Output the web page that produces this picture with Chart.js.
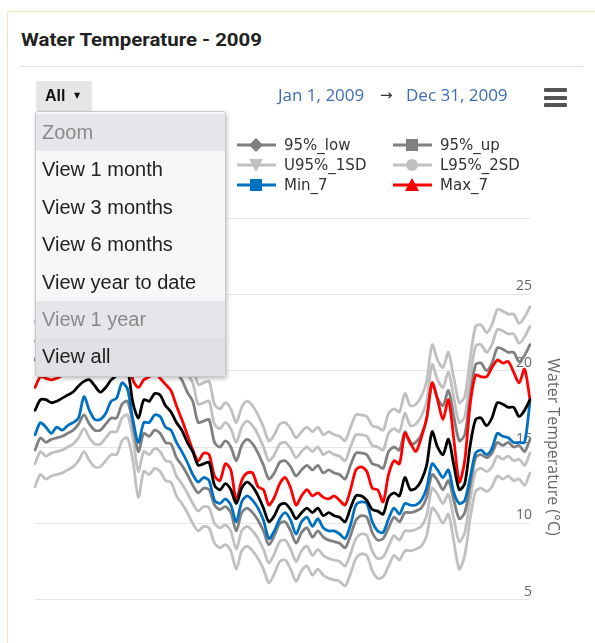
<!DOCTYPE html>
<html>
<head>
<meta charset="utf-8">
<script src="https://cdn.jsdelivr.net/npm/chart.js@4.4.0/dist/chart.umd.min.js"></script>
<style>
  html, body { margin: 0; padding: 0; background: #fff; }
  body { width: 595px; height: 643px; overflow: hidden; position: relative; font-family: 'DejaVu Sans', sans-serif; }
  .panel { position: absolute; left: 7px; top: 11px; width: 620px; height: 660px; border-left: 1px solid #f3e7b4; border-top: 1px solid #f3e7b4; }
  #title { position: absolute; left: 21px; top: 30px; font: 700 19px/19px Roboto, 'Liberation Sans', sans-serif; color: #222; white-space: nowrap; transform-origin: 0 0; }
  .rule { position: absolute; left: 21px; top: 66px; width: 562px; height: 1px; background: #dddddd; }
  #wrap { position: absolute; left: 0; top: 0; width: 595px; height: 700px; }
  #legend { position: absolute; left: 0; top: 0; width: 595px; height: 210px; pointer-events: none; }
  .item { position: absolute; height: 18px; display: flex; align-items: center; white-space: nowrap; }
  .item span { margin-left: 8px; font: 15px 'DejaVu Sans', sans-serif; color: #333; }
  .btn { position: absolute; left: 36px; top: 81px; width: 56px; height: 30px; background: #e6e6e6; border-radius: 2px; }
  .btn b { position: absolute; left: 9px; top: 6px; font: 700 16px/18px 'Liberation Sans', Arial, sans-serif; color: #111; }
  .btn i { position: absolute; left: 38px; top: 9px; font: normal 8px/12px 'DejaVu Sans', sans-serif; color: #111; }
  .range { position: absolute; top: 83px; font: 17px/24px 'Open Sans', sans-serif; color: #3e6db4; white-space: nowrap; }
  .arrow { position: absolute; top: 83px; left: 380px; font: 15px/24px 'DejaVu Sans', sans-serif; color: #333; }
  .burger { position: absolute; left: 544px; width: 23px; height: 4px; background: #555; border-radius: 1px; }
  .menu { position: absolute; left: 35px; top: 111px; width: 191px; height: 266px; padding-top: 2px; box-sizing: border-box; background: #f7f7f9; border: 1px solid #c9c9cc; border-radius: 3px; box-shadow: 1px 2px 4px rgba(0,0,0,0.25); overflow: hidden; }
  .menu div { height: 37.4px; padding-left: 6px; font: 20px/37.4px 'Liberation Sans', Arial, sans-serif; color: #222; white-space: nowrap; }
  .menu .head { background: #e6e6ea; color: #8a8a8a; }
  .menu .off { background: #e6e6ea; color: #8a8a8a; }
  .menu .sel { background: #e1e1e5; color: #222; }
</style>
</head>
<body>
<div class="panel"></div>
<div id="title">Water Temperature - 2009</div>
<div class="rule"></div>
<div id="wrap"><canvas id="chart" width="595" height="700"></canvas></div>
<div id="legend"></div>

<div class="btn"><b>All</b><i>▼</i></div>
<div class="range" style="left:278px">Jan 1, 2009</div>
<div class="arrow">→</div>
<div class="range" style="left:406px">Dec 31, 2009</div>
<div class="burger" style="top:88px"></div>
<div class="burger" style="top:95.5px"></div>
<div class="burger" style="top:103px"></div>

<div class="menu">
  <div class="head">Zoom</div>
  <div>View 1 month</div>
  <div>View 3 months</div>
  <div>View 6 months</div>
  <div>View year to date</div>
  <div class="off">View 1 year</div>
  <div class="sel">View all</div>
</div>

<script>
// Daily water temperatures for 2009, one sample every 4 days (°C)
const avg7 = [17.4,18.1,18.1,17.9,18.0,18.2,18.4,18.6,19.0,19.3,
  19.4,19.0,18.6,18.9,19.4,19.7,20.4,20.1,17.9,16.9,
  18.1,18.0,18.5,18.4,17.7,17.3,16.6,16.1,15.3,14.7,
  13.8,13.9,14.0,12.5,12.2,12.6,12.2,11.3,12.3,12.7,
  12.4,11.8,11.0,10.1,10.5,11.2,11.3,10.9,10.3,10.7,
  11.0,10.7,11.0,10.5,10.7,10.5,10.4,10.1,11.0,11.8,
  11.8,11.5,10.9,10.8,10.6,11.7,12.0,11.8,13.0,12.2,
  12.3,12.8,13.8,16.0,15.0,14.5,15.5,13.8,12.2,12.6,
  15.1,16.8,16.9,16.4,16.9,17.9,17.8,17.6,17.6,17.0,
  17.4,18.1];

const max7 = [18.9,19.6,19.5,19.4,19.5,19.7,19.9,20.1,20.5,20.8,
  20.9,20.5,20.1,20.4,20.9,21.2,21.8,21.5,19.4,18.9,
  19.4,19.6,19.9,19.5,19.1,18.7,17.7,16.8,15.8,14.8,
  14.1,14.6,14.5,13.1,12.8,13.9,13.5,11.5,12.8,13.3,
  13.3,12.4,12.2,11.2,11.7,12.6,13.0,12.3,11.2,11.8,
  12.2,11.8,12.0,11.7,11.6,11.8,11.5,11.2,12.2,13.5,
  13.7,13.4,12.3,12.2,11.4,13.2,14.1,13.9,15.9,15.3,
  14.7,15.6,16.9,19.2,18.1,16.8,18.1,15.5,12.7,14.1,
  17.8,19.7,19.6,19.6,20.2,20.7,20.5,20.6,19.9,19.2,
  20.1,18.1];

const min7 = [15.8,16.6,16.3,15.9,16.3,16.1,16.4,16.6,16.9,18.3,
  17.4,16.8,16.8,17.2,18.0,18.2,19.2,18.8,16.8,15.3,
  16.6,16.6,17.1,17.0,16.3,16.1,15.3,14.7,14.0,13.2,
  12.7,13.0,12.8,11.5,11.3,11.6,11.2,10.1,11.4,11.8,
  11.5,11.0,10.2,9.0,9.5,10.3,10.7,10.2,9.3,10.1,
  10.4,9.8,10.3,9.7,9.5,9.5,9.3,9.0,9.9,11.2,
  11.4,11.3,10.1,9.5,9.4,10.3,11.0,10.6,11.3,11.2,
  11.2,11.5,12.3,13.9,13.5,13.0,13.5,12.0,11.3,11.5,
  13.0,14.6,14.8,14.5,14.9,15.9,15.7,15.6,15.3,15.3,
  15.3,18.0];

const low95 = [14.8,15.6,15.3,15.5,15.6,15.7,15.9,16.1,16.5,17.1,
  16.5,16.1,16.1,16.5,16.9,16.9,17.8,18.0,16.5,14.7,
  15.9,15.7,16.1,15.9,15.3,15.2,14.3,13.8,13.2,12.5,
  12.0,12.3,12.2,11.2,10.9,11.1,10.7,9.5,10.7,11.0,
  10.7,10.2,9.5,8.6,9.2,10.0,10.1,9.5,8.7,9.4,
  9.7,9.1,9.5,9.1,8.9,8.8,8.7,8.4,9.2,10.2,
  10.5,10.4,9.4,8.9,9.0,9.7,10.4,10.1,10.7,10.7,
  10.8,11.0,11.7,13.2,12.8,12.2,12.8,11.5,10.3,10.7,
  12.5,14.3,14.5,14.3,14.6,15.3,15.1,15.3,15.0,15.1,
  14.7,15.5];

const up95 = [20.7,21.4,21.4,21.2,21.3,21.5,21.7,21.9,22.3,22.6,
  22.7,22.3,21.9,22.2,22.7,23.0,23.7,23.4,21.2,20.2,
  21.4,21.3,21.8,21.7,21.0,20.6,19.9,19.4,18.6,18.0,
  16.6,16.7,16.8,15.3,15.0,15.4,15.0,14.1,15.1,15.5,
  15.2,14.6,13.8,12.9,13.3,14.0,14.1,13.7,13.1,13.5,
  13.8,13.5,13.8,13.3,13.5,13.3,13.2,12.9,13.8,14.6,
  14.6,14.5,13.9,13.8,13.6,14.7,15.0,14.8,16.0,15.2,
  15.3,15.8,16.8,19.2,18.2,17.7,18.7,17.0,15.4,15.8,
  18.3,20.4,20.5,20.0,20.5,21.5,21.4,21.2,21.2,20.6,
  21.0,21.7];

const lower1SD = [13.9,14.7,14.4,14.6,14.7,14.8,15.0,15.2,15.6,16.2,
  15.6,15.2,15.2,15.6,16.0,16.0,16.9,17.1,15.6,13.4,
  14.7,14.5,14.9,14.7,14.1,14.0,13.1,12.6,12.0,11.3,
  10.8,11.1,11.0,10.0,9.7,9.9,9.5,8.3,9.5,9.8,
  9.5,9.0,8.3,7.4,8.0,8.8,8.9,8.3,7.5,8.2,
  8.5,7.9,8.3,7.9,7.7,7.6,7.5,7.2,8.0,9.0,
  9.3,9.2,8.2,7.7,7.8,8.5,9.2,8.9,9.5,9.5,
  9.6,9.8,10.5,12.3,11.9,11.3,11.9,10.3,8.8,9.4,
  11.6,13.4,13.6,13.4,13.7,14.4,14.2,14.4,14.1,14.2,
  13.8,14.6];

const upper1SD = [21.9,22.6,22.6,22.4,22.5,22.7,22.9,23.1,23.5,23.8,
  23.9,23.5,23.1,23.4,23.9,24.2,24.9,24.6,22.4,21.4,
  22.6,22.5,23.0,22.9,22.2,21.8,21.1,20.6,19.8,19.2,
  17.8,17.9,18.0,16.5,16.2,16.6,16.2,15.3,16.3,16.7,
  16.4,15.8,15.0,14.1,14.5,15.2,15.3,14.9,14.3,14.7,
  15.0,14.7,15.0,14.5,14.7,14.5,14.4,14.1,15.0,15.8,
  15.8,15.7,15.1,15.0,14.8,15.9,16.2,16.0,17.2,16.4,
  16.5,17.0,18.0,20.4,19.4,18.9,19.9,18.2,16.6,17.0,
  19.5,21.6,21.7,21.2,21.7,22.7,22.6,22.4,22.4,21.8,
  22.2,22.9];

const lower2SD = [12.4,13.2,12.9,13.1,13.2,13.3,13.5,13.7,14.1,14.7,
  14.1,13.7,13.7,14.1,14.5,14.5,15.4,15.6,14.1,11.7,
  13.4,13.2,13.6,13.4,12.8,12.7,11.8,11.3,10.7,10.0,
  9.5,9.8,9.7,8.7,8.4,8.6,8.2,7.0,8.2,8.5,
  8.2,7.7,7.0,6.1,6.7,7.5,7.6,7.0,6.2,6.9,
  7.2,6.6,7.0,6.6,6.4,6.3,6.2,5.9,6.7,7.7,
  8.0,7.9,6.9,6.4,6.5,7.2,7.9,7.6,8.2,8.2,
  8.3,8.5,9.2,11.0,10.6,10.0,10.6,8.8,7.0,7.9,
  10.3,12.1,12.3,12.1,12.4,13.1,12.9,13.1,12.8,12.9,
  12.5,13.3];

const upper2SD = [23.2,23.9,23.9,23.7,23.8,24.0,24.2,24.4,24.8,25.1,
  25.2,24.8,24.4,24.7,25.2,25.5,26.2,25.9,23.7,22.7,
  23.9,23.8,24.3,24.2,23.5,23.1,22.4,21.9,21.1,20.5,
  19.1,19.2,19.3,17.8,17.5,17.9,17.5,16.6,17.6,18.0,
  17.7,17.1,16.3,15.4,15.8,16.5,16.6,16.2,15.6,16.0,
  16.3,16.0,16.3,15.8,16.0,15.8,15.7,15.4,16.3,17.1,
  17.1,17.0,16.4,16.3,16.1,17.2,17.5,17.3,18.5,17.7,
  17.8,18.3,19.3,21.7,20.7,20.2,21.2,19.5,17.9,18.3,
  20.8,22.9,23.0,22.5,23.0,24.0,23.9,23.7,23.7,23.1,
  23.5,24.2];

// Temperature axis
const yMin = 0, yMax = 30, yStep = 5;
const yTickLabels = [5, 10, 15, 20, 25];

// Sample dates: every 4th day of 2009
const startDate = Date.UTC(2009, 0, 1);
const stepDays = 4;
const dates = avg7.map((_, i) => new Date(startDate + i * stepDays * 864e5).toISOString().slice(0, 10));

const DARK = '#808080', LIGHT = '#c0c0c0';

// Series in legend order (three per row); z lower = drawn on top
const series = [
  { name: 'Avg_7',    data: avg7,     color: '#000000', symbol: 'circle',   z: 0 },
  { name: '95%_low',  data: low95,    color: DARK,      symbol: 'diamond',  z: 3 },
  { name: '95%_up',   data: up95,     color: DARK,      symbol: 'square',   z: 4 },
  { name: 'L95%_1SD', data: lower1SD, color: LIGHT,     symbol: 'triangle', z: 5 },
  { name: 'U95%_1SD', data: upper1SD, color: LIGHT,     symbol: 'triangle-down', z: 6 },
  { name: 'L95%_2SD', data: lower2SD, color: LIGHT,     symbol: 'circle',   z: 7 },
  { name: 'U95%_2SD', data: upper2SD, color: LIGHT,     symbol: 'diamond',  z: 8 },
  { name: 'Min_7',    data: min7,     color: '#0070c0', symbol: 'square',   z: 2 },
  { name: 'Max_7',    data: max7,     color: '#ff0000', symbol: 'triangle', z: 1 }
];

// Rotated axis title on the right side
const axisTitle = {
  id: 'axisTitle',
  afterDraw(chart) {
    const { ctx, chartArea } = chart;
    ctx.save();
    ctx.translate(553, (chartArea.top + chartArea.bottom) / 2);
    ctx.rotate(Math.PI / 2);
    ctx.font = "16px 'Open Sans', sans-serif";
    ctx.fillStyle = '#666666';
    ctx.textAlign = 'center';
    ctx.textBaseline = 'middle';
    ctx.fillText('Water Temperature (°C)', 0, 0);
    ctx.restore();
  }
};

const chart = new Chart(document.getElementById('chart'), {
  type: 'line',
  data: {
    labels: dates,
    datasets: series.map(s => ({
      label: s.name,
      data: s.data,
      borderColor: s.color,
      backgroundColor: s.color,
      borderWidth: 2.8,
      pointRadius: 0,
      tension: 0.28,
      fill: false,
      order: s.z,
      borderJoinStyle: 'round',
      borderCapStyle: 'round'
    }))
  },
  options: {
    responsive: false,
    animation: false,
    devicePixelRatio: 1,
    layout: { padding: { left: 35, right: 61, top: 218, bottom: 24 } },
    plugins: { legend: { display: false }, tooltip: { enabled: false } },
    scales: {
      x: { display: false },
      y: {
        position: 'right',
        min: yMin,
        max: yMax,
        grid: { color: '#e6e6e6', lineWidth: 1, drawTicks: false },
        border: { display: false },
        ticks: {
          stepSize: yStep,
          mirror: true,
          padding: 2,
          labelOffset: -8,
          color: '#666666',
          font: { family: 'Open Sans', size: 14 },
          callback: v => (yTickLabels.includes(v) ? String(v) : '')
        }
      }
    }
  },
  plugins: [axisTitle]
});

// Legend grid: three columns, filled row by row
const legendCols = [81, 237, 393];
const legendRows = [145, 165, 185];
function symbolSvg(shape, color) {
  const c = 19, cy = 9;
  let m = '';
  if (shape === 'circle') m = `<circle cx="${c}" cy="${cy}" r="6" fill="${color}"/>`;
  if (shape === 'square') m = `<rect x="${c - 6}" y="${cy - 6}" width="12" height="12" fill="${color}"/>`;
  if (shape === 'diamond') m = `<polygon points="${c},${cy - 7} ${c + 7},${cy} ${c},${cy + 7} ${c - 7},${cy}" fill="${color}"/>`;
  if (shape === 'triangle') m = `<polygon points="${c},${cy - 7} ${c + 7},${cy + 6} ${c - 7},${cy + 6}" fill="${color}"/>`;
  if (shape === 'triangle-down') m = `<polygon points="${c - 7},${cy - 6} ${c + 7},${cy - 6} ${c},${cy + 7}" fill="${color}"/>`;
  return `<svg width="39" height="18" viewBox="0 0 39 18"><line x1="0" y1="${cy}" x2="39" y2="${cy}" stroke="${color}" stroke-width="3"/>${m}</svg>`;
}
const legend = document.getElementById('legend');
series.forEach((s, i) => {
  const el = document.createElement('div');
  el.className = 'item';
  el.style.left = legendCols[i % 3] + 'px';
  el.style.top = (legendRows[Math.floor(i / 3)] - 9) + 'px';
  el.innerHTML = symbolSvg(s.symbol, s.color) + `<span>${s.name}</span>`;
  legend.appendChild(el);
});

// Fit the title to its line width
const title = document.getElementById('title');
const tw = title.getBoundingClientRect().width;
title.style.transform = `scaleX(${241 / tw})`;
</script>
</body>
</html>
